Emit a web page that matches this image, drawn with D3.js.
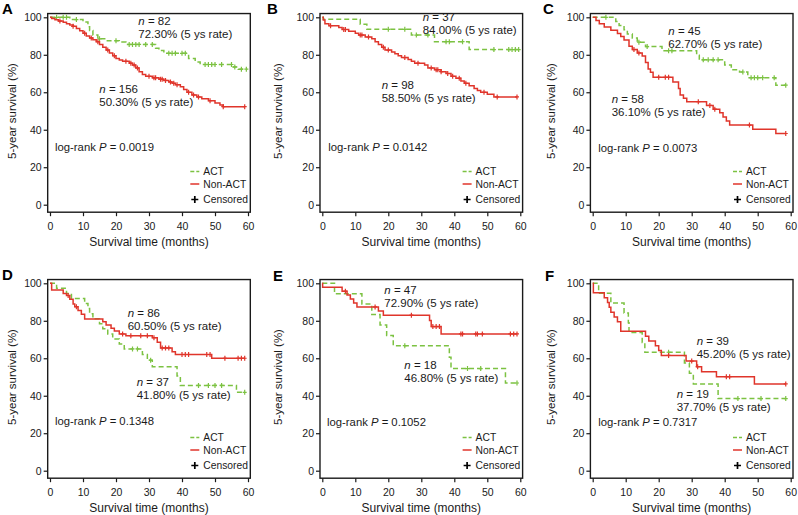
<!DOCTYPE html>
<html><head><meta charset="utf-8">
<script src="https://cdn.jsdelivr.net/npm/d3@7"></script>
<style>body{margin:0;background:#fff}</style>
</head><body><svg id="c" width="798" height="515"></svg>
<script>
// ---------------- DATA ----------------
const panelLabels = ["A","B","C","D","E","F"];
const actN = [82,37,45,37,18,19];
const nonN = [156,98,58,86,47,39];
const actRate = ["72.30%","84.00%","62.70%","41.80%","46.80%","37.70%"];
const nonRate = ["50.30%","58.50%","36.10%","60.50%","72.90%","45.20%"];
const pValues = ["0.0019","0.0142","0.0073","0.1348","0.1052","0.7317"];
const xTicks = [0,10,20,30,40,50,60];
const yTicks = [0,20,40,60,80,100];
const seriesNames = ["ACT","Non-ACT","Censored"];

// Kaplan-Meier events: [month, survival % after event]; censor times in months
const actA = [[6,98.8],[10,97.5],[11.5,95],[12,93],[13,90.5],[14.5,88.5],[17,87.5],[21,86.8],[23,85.5],[32,83.5],[33,82.3],[34.5,80.8],[42,78],[44,76.2],[45.5,74.8],[55.5,73.5],[57,72.3]];
const actAc = [2,4,5,8,15,20,24,25,26,27,29,31,36,37,38,40,41,47,48,49,50,52,55,56,58,59.5];
const nonA = [[0.5,99.3],[1.5,98.7],[2.5,98],[4,97.3],[5,96.6],[6,95.9],[7,95.2],[8,94],[9,92.8],[10,91.5],[11,90],[12,89],[13,88],[14,87],[15,85.5],[16,84],[17,82.5],[18,81],[19,79.5],[20,78],[21,77.2],[22,76.5],[24,75.5],[25,74.5],[26,73],[27,71],[28,69.5],[29,68.5],[31,67.7],[33,67],[34.5,66.3],[36,65.5],[37,64.8],[38,64],[39.5,63],[40.5,61.5],[41.5,60],[43,58.6],[44.5,57.5],[46,56.5],[48,55.5],[50,54.3],[51.5,53.2],[52.5,52.3]];
const nonAc = [3,7,10.5,12.5,14.5,17.5,19.5,23,24.5,25.5,26.5,30,31.5,32,33.5,34,35,36.5,37.5,38.5,42,43.5,45,48.5,52.5,59];

const actB = [[0.3,98.9],[11.5,96.3],[13.5,93.6],[27,90.5],[34,87],[44.5,82.8]];
const actBc = [20,25,28.5,32,37.5,38.5,42.5,52,56.5,57.5,58.5,59.5];
const nonB = [[0.3,98.5],[0.8,96.5],[2,95.5],[5,94.5],[6,93.5],[8,92.5],[10,91.5],[11,90.5],[13,89.5],[15,88.5],[16,87],[17,85.5],[18,84],[19,82.5],[21,81.5],[22,80.5],[23,79.5],[24,78.5],[26,77.5],[27,76.5],[28,75.5],[31,74.5],[32,73],[34,72],[36,71],[37.5,70],[39,68.5],[40.5,67.5],[42,66],[43,64.8],[44.5,63.5],[46,62],[47,61],[48,60],[50,59],[52,57.5]];
const nonBc = [2.5,6.5,7,11.5,12,14,18.5,20,25,29,33,34.5,35,36,38,39.5,41.5,43.5,49,53,59];

const actC = [[7,97.8],[8,95.6],[9.5,93.3],[10.5,91.1],[12,88.9],[13.5,86.7],[16,84.4],[21,82.2],[31.5,79.8],[32.3,77.3],[40,74.5],[42,72],[44.5,70.8],[47,67.8],[55.5,63.8]];
const actCc = [4,14,16.5,23,24,33.5,35,36.5,38,45.5,48,49,50,51.5,55,58.5];
const nonC = [[1,98.3],[2,96.6],[3.5,94.8],[5.5,93.1],[7.5,91.4],[8.5,89.7],[9.5,87.9],[11,84.5],[12,82.8],[13.5,81],[15,79.3],[16,75.9],[16.8,72.4],[17.5,70.7],[18.3,68],[24.3,65.5],[26,62],[26.5,58.6],[27.5,56.8],[28.5,55],[34.5,53],[36.5,51],[38.5,49],[39.5,46.8],[40.5,44.6],[41.5,42.5],[48.5,40.3],[55.5,38]];
const nonCc = [12.5,14,20,22,23,32,35.5,37,47.5,58.5];

const actD = [[2,97.3],[5,94.6],[6.5,91.9],[10.5,89.2],[11.5,86.5],[12,83.8],[13,81.1],[15,78.4],[16,75.7],[17.5,73],[19,70.3],[21,67.6],[22.5,65],[28,62],[29.5,59],[31,55.5],[38.5,50.5],[39.5,45.5],[56.5,41.8]];
const actDc = [25,26.5,30.5,45,48,50,52,59];
const nonD = [[0.5,96.4],[4,94.5],[5,93.5],[6,91.5],[7,89],[7.5,87.5],[8.5,85.5],[9.5,83.5],[10.5,81],[16,79.5],[17,77.8],[18.5,76],[19.5,74.5],[21,73],[23,72],[31,71],[32.5,68.5],[33.5,65.5],[37,63.5],[38,62],[49,60]];
const nonDc = [5.5,8,22,24.5,27.5,29.5,31.5,34,35,36,40,41,42,47.5,48.5,53,57,58,59];

const actE = [[3.7,94.4],[12,88.9],[15,83.3],[17.5,77.8],[19.5,72.2],[21.5,66.7],[38.5,60.6],[39,54.5],[55.5,46.8]];
const actEc = [25,44,48,59];
const nonE = [[0.1,97.9],[6,95.8],[7.5,93.7],[8.5,91.6],[9.5,89.5],[10.5,87.4],[17,85.2],[18.5,83],[32.5,80.2],[33,76.9],[36,73]];
const nonEc = [7,16,27,33.5,34.5,35.5,42,42.5,46.5,47,48.5,57,58,59];

const actF = [[1.8,94.7],[5.5,89.5],[9.5,84.2],[10.8,78.9],[11,73.7],[15,68.4],[15.8,63.2],[27.8,57.5],[29.3,52],[30.5,46.3],[38,38.5]];
const actFc = [23,44,51,58.5];
const nonF = [[0.2,94.9],[3.5,92.3],[4.5,89.7],[5,87.2],[5.5,84.6],[6.5,82],[7.5,79.5],[8.5,74.4],[16,71.8],[17,69.2],[19,66.7],[20,64.1],[20.8,61.5],[28.3,58.5],[31.5,55.5],[33,52.8],[37.5,50.2],[49,46.3]];
const nonFc = [23,30,31.8,40.5,41.5,58.5];

const actSeries = [actA,actB,actC,actD,actE,actF];
const actCensor = [actAc,actBc,actCc,actDc,actEc,actFc];
const nonSeries = [nonA,nonB,nonC,nonD,nonE,nonF];
const nonCensor = [nonAc,nonBc,nonCc,nonDc,nonEc,nonFc];

// ---------------- LAYOUT ----------------
const FONT = "'Liberation Sans', Arial, Helvetica, sans-serif";
const GREEN = "#7cc242", RED = "#e0352b", INK = "#1a1a1a";
const colX0 = [50, 322.3, 592.7];
const rowY100 = [17.3, 283.3];
const yTitleX = [12, 278, 551];
const letterPos = [[2,14],[267,14],[543,14],[2,280],[273,281],[545,281]];
const PXM = 3.3, PXP = 1.874;
// annotation offsets relative to (x of month 0, y of 100%): [dx, dy center]
const annot = [
  {act:[88.3,4],   non:[49.3,72],  log:[5,129.4]},
  {act:[100.4,-0.6],non:[59.4,67.7],log:[6,129.4]},
  {act:[75.6,13.7], non:[19,82],   log:[5.6,130.4]},
  {act:[86.7,98.7], non:[77.7,29.3],log:[5,138]},
  {act:[82,82],     non:[62,6.3],  log:[4.7,138.7]},
  {act:[84,110.3],  non:[104,58],  log:[5.6,138.7]}
];

const svg = d3.select("#c");

function survAt(events, t){
  let s = 100;
  for (const e of events){ if (e[0] <= t) s = e[1]; else break; }
  return s;
}

panelLabels.forEach((lab, i) => {
  const x0 = colX0[i%3], y100 = rowY100[Math.floor(i/3)];
  const x = d3.scaleLinear().domain([0,60]).range([x0, x0 + 60*PXM]);
  const y = d3.scaleLinear().domain([0,100]).range([y100 + 100*PXP, y100]);
  const L = x(-0.7), R = x(60.7), T = y(102), B = y(-4);
  const g = svg.append("g");

  // axes
  const ya = g.append("g").attr("transform", `translate(${L},0)`)
    .call(d3.axisLeft(y).tickValues(yTicks).tickSize(4).tickPadding(2));
  const xa = g.append("g").attr("transform", `translate(0,${B})`)
    .call(d3.axisBottom(x).tickValues(xTicks).tickSize(4).tickPadding(6));
  [ya, xa].forEach(a => {
    a.select(".domain").remove();
    a.selectAll("line").attr("stroke", INK).attr("stroke-width", 1.2);
    a.selectAll("text").attr("font-family", FONT).attr("font-size", 10.5).attr("fill", INK);
  });

  // frame
  g.append("rect").attr("x", L).attr("y", T).attr("width", R-L).attr("height", B-T)
    .attr("fill", "none").attr("stroke", INK).attr("stroke-width", 1.4);

  // axis titles
  g.append("text").attr("x", (L+R)/2).attr("y", B + 34).attr("text-anchor", "middle")
    .attr("font-family", FONT).attr("font-size", 12).attr("fill", INK).text("Survival time (months)");
  g.append("text").attr("transform", `translate(${yTitleX[i%3]},${y(50)}) rotate(-90)`)
    .attr("text-anchor", "middle").attr("dy", "0.35em")
    .attr("font-family", FONT).attr("font-size", 11.5).attr("fill", INK).text("5-year survival (%)");

  // panel letter
  g.append("text").attr("x", letterPos[i][0]).attr("y", letterPos[i][1])
    .attr("font-family", FONT).attr("font-size", 15).attr("font-weight", "bold").attr("fill", "#000").text(lab);

  // curves
  const line = d3.line().x(d => x(d[0])).y(d => y(d[1])).curve(d3.curveStepAfter);
  const groups = [
    {ev: actSeries[i], cen: actCensor[i], color: GREEN, dash: "5,3"},
    {ev: nonSeries[i], cen: nonCensor[i], color: RED, dash: null}
  ];
  groups.forEach(s => {
    const tEnd = Math.max(s.ev[s.ev.length-1][0], d3.max(s.cen));
    const pts = [[0,100], ...s.ev, [tEnd, s.ev[s.ev.length-1][1]]];
    g.append("path").attr("d", line(pts)).attr("fill", "none")
      .attr("stroke", s.color).attr("stroke-width", 1.5)
      .attr("stroke-dasharray", s.dash);
    s.cen.forEach(t => {
      const cx = x(t), cy = y(survAt(s.ev, t));
      g.append("path").attr("d", `M${cx-2},${cy}H${cx+2}M${cx},${cy-2.5}V${cy+2.5}`)
        .attr("stroke", s.color).attr("stroke-width", 1.2).attr("fill", "none");
    });
  });

  // annotations
  const a = annot[i];
  const put = (pos, n, rate) => {
    const t1 = g.append("text").attr("x", x0 + pos[0]).attr("y", y100 + pos[1] + 4)
      .attr("font-family", FONT).attr("font-size", 11.5).attr("fill", INK);
    t1.append("tspan").attr("font-style", "italic").text("n");
    t1.append("tspan").text(" = " + n);
    g.append("text").attr("x", x0 + pos[0]).attr("y", y100 + pos[1] + 17)
      .attr("font-family", FONT).attr("font-size", 11.5).attr("fill", INK)
      .text(rate + " (5 ys rate)");
  };
  put(a.act, actN[i], actRate[i]);
  put(a.non, nonN[i], nonRate[i]);
  const lt = g.append("text").attr("x", x0 + a.log[0]).attr("y", y100 + a.log[1] + 4)
    .attr("font-family", FONT).attr("font-size", 11.3).attr("fill", INK);
  lt.append("tspan").text("log-rank ");
  lt.append("tspan").attr("font-style", "italic").text("P");
  lt.append("tspan").text(" = " + pValues[i]);

  // legend
  const lx = R - 47;
  const rows = [y100 + 154.2, y100 + 166.7, y100 + 182.2];
  g.append("line").attr("x1", lx-13).attr("x2", lx-4).attr("y1", rows[0]).attr("y2", rows[0])
    .attr("stroke", GREEN).attr("stroke-width", 1.5).attr("stroke-dasharray", "4,2");
  g.append("line").attr("x1", lx-13).attr("x2", lx-4).attr("y1", rows[1]).attr("y2", rows[1])
    .attr("stroke", RED).attr("stroke-width", 1.5);
  const px = lx - 8.5, py = rows[2];
  g.append("path").attr("d", `M${px-3.5},${py}H${px+3.5}M${px},${py-3.5}V${py+3.5}`)
    .attr("stroke", "#000").attr("stroke-width", 1.7);
  seriesNames.forEach((nm, k) => {
    g.append("text").attr("x", lx).attr("y", rows[k] + 3.7)
      .attr("font-family", FONT).attr("font-size", 10.3).attr("fill", INK).text(nm);
  });
});
</script>
</body></html>
